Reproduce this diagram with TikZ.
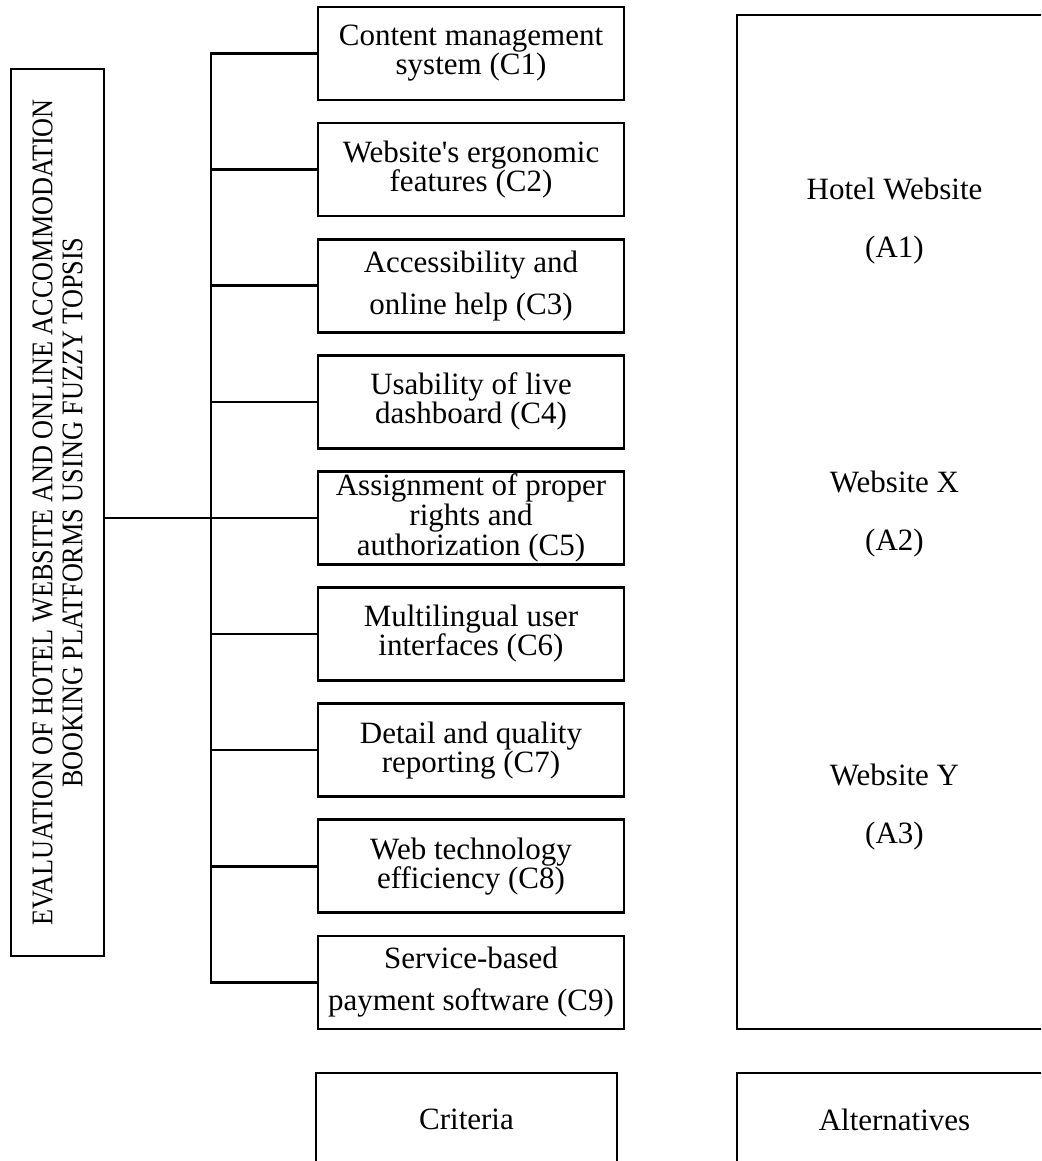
\documentclass[tikz,border=0pt]{standalone}
\usepackage{fontspec}
\setmainfont{Liberation Serif}
\newfontfamily\condfont[FakeStretch=0.874]{Liberation Serif}
\begin{document}
\begin{tikzpicture}[x=1pt,y=-1pt,
  line width=2.6pt, line join=miter,
  critbox/.style={draw, minimum width=306pt, minimum height=93pt, inner sep=0pt, align=center,
    font=\fontsize{31}{29}\selectfont},
  widelines/.style={font=\fontsize{31}{42}\selectfont},
  labelbox/.style={draw, minimum height=93pt, inner sep=0pt, font=\fontsize{31}{31}\selectfont},
  alttext/.style={anchor=base, inner sep=0pt, font=\fontsize{31}{31}\selectfont}]
\useasboundingbox (0,0) rectangle (1041,1161);
\clip (0,0) rectangle (1041,1161);

% goal box (rotated text)
\node[draw, rotate=90, minimum width=887pt, minimum height=93pt, inner sep=0pt, align=center,
  font=\condfont\fontsize{30}{30}\selectfont] (goal) at (57.5,512.5)
  {EVALUATION OF HOTEL WEBSITE AND ONLINE ACCOMMODATION\\BOOKING PLATFORMS USING FUZZY TOPSIS};

% criteria boxes
\node[critbox] (c1) at (471,53.5) {Content management\\system (C1)};
\node[critbox] (c2) at (471,169.6) {Website\textquotesingle s ergonomic\\features (C2)};
\node[critbox, widelines] (c3) at (471,285.7) {Accessibility and\\online help (C3)};
\node[critbox] (c4) at (471,401.8) {Usability of live\\dashboard (C4)};
\node[critbox, font=\fontsize{31}{30}\selectfont] (c5) at (471,517.9) {Assignment of proper\\rights and\\authorization (C5)};
\node[critbox] (c6) at (471,634) {Multilingual user\\interfaces (C6)};
\node[critbox] (c7) at (471,750.1) {Detail and quality\\reporting (C7)};
\node[critbox] (c8) at (471,866.2) {Web technology\\efficiency (C8)};
\node[critbox, widelines] (c9) at (471,982.3) {Service-based\\payment software (C9)};

% bus
\coordinate (bt) at (211,53.5);
\draw (c1.west) -- (c1.west -| bt) -- (c9.west -| bt) -- (c9.west);
\foreach \i in {2,...,8} {\draw (c\i.west -| bt) -- (c\i.west);}
\draw (goal.south |- c5.west) -- (c5.west -| bt);

% alternatives box
\node[draw, minimum width=315pt, minimum height=1014pt, inner sep=0pt] (alts) at (894.5,522) {};
\node[alttext] (a1n) at (894.5,200) {Hotel Website};
\node[alttext] (a1i) at (894.5,257) {(A1)};
\node[alttext] (a2n) at (894.5,492.5) {Website X};
\node[alttext] (a2i) at (894.5,550) {(A2)};
\node[alttext] (a3n) at (894.5,785) {Website Y};
\node[alttext] (a3i) at (894.5,843) {(A3)};

% bottom label boxes
\node[labelbox, minimum width=301pt] (crit) at (466.5,1119.5) {Criteria};
\node[labelbox, minimum width=315pt] (altl) at (894.5,1119.5) {Alternatives};
\end{tikzpicture}
\end{document}
